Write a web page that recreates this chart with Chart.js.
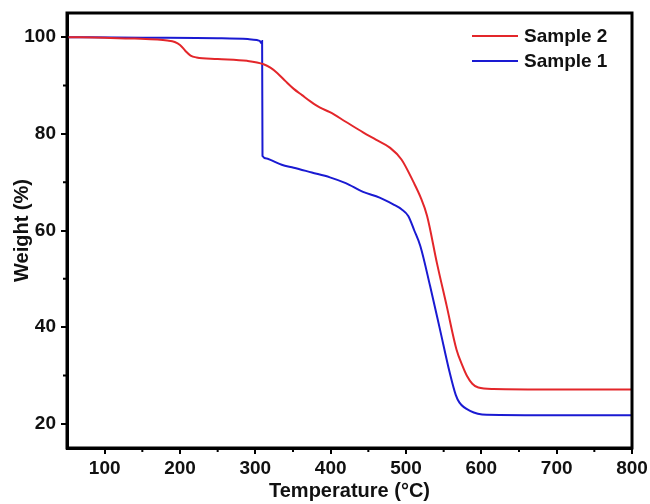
<!DOCTYPE html>
<html>
<head>
<meta charset="utf-8">
<script src="https://cdn.jsdelivr.net/npm/chart.js@4/dist/chart.umd.min.js"></script>
<style>
  html,body{margin:0;padding:0;background:#fff;}
  #wrap{width:650px;height:504px;}
</style>
</head>
<body>
<div id="wrap"><canvas id="c" width="650" height="504"></canvas></div>
<script>
// ---- data ----
const sample2Temp = [50, 100, 140, 170, 183, 193, 200, 207, 214, 222, 250, 289, 311, 320, 329, 340, 351, 362, 374, 386, 399, 420, 443, 460, 479, 494, 510, 519, 528, 541, 554, 567, 575, 581, 588, 596, 616, 700, 800];
const sample2Weight = [100, 99.9, 99.7, 99.5, 99.3, 99.0, 98.4, 97.2, 96.2, 95.8, 95.5, 95.1, 94.4, 93.7, 92.6, 90.9, 89.3, 88.0, 86.6, 85.4, 84.5, 82.5, 80.3, 78.8, 77.1, 74.7, 70.0, 67.0, 63.0, 53.3, 44.4, 35.4, 32.0, 29.9, 28.3, 27.5, 27.2, 27.1, 27.1];
const sample1Temp = [50, 150, 250, 290, 302, 306, 308, 309, 309.5, 315, 320, 335, 351, 375, 399, 420, 443, 465, 483, 494, 503, 511, 519, 532, 545, 558, 566, 571, 585, 607, 700, 800];
const sample1Weight = [100, 99.9, 99.8, 99.6, 99.4, 99.2, 98.8, 99.2, 75.4, 74.9, 74.6, 73.6, 73.0, 72.0, 71.0, 69.8, 68.0, 66.8, 65.4, 64.4, 63.0, 60.0, 56.8, 48.5, 39.6, 30.6, 26.0, 24.4, 22.7, 21.9, 21.8, 21.8];
const xTickValues = [100, 200, 300, 400, 500, 600, 700, 800];
const xMinorTicks = [150, 250, 350, 450, 550, 650, 750];
const yTickValues = [20, 40, 60, 80, 100];
const yMinorTicks = [30, 50, 70, 90];
const seriesLabels = ['Sample 2', 'Sample 1'];

const RED = '#e3262a';
const BLUE = '#1a1ad2';
const FONT = 'Liberation Sans, Arial, Helvetica, sans-serif';

function toPoints(xs, ys){ return xs.map((x,i)=>({x:x, y:ys[i]})); }

const framePlugin = {
  id: 'frame',
  afterDraw(chart){
    const {ctx, chartArea:a, scales} = chart;
    ctx.save();
    ctx.strokeStyle = '#000';
    ctx.lineWidth = 2;
    ctx.beginPath();
    xMinorTicks.forEach(v=>{
      const px = scales.x.getPixelForValue(v);
      ctx.moveTo(px, a.bottom); ctx.lineTo(px, a.bottom + 4);
    });
    yMinorTicks.forEach(v=>{
      const py = scales.y.getPixelForValue(v);
      ctx.moveTo(a.left, py); ctx.lineTo(a.left - 4, py);
    });
    ctx.stroke();
    ctx.lineWidth = 3;
    ctx.strokeRect(a.left, a.top, a.right - a.left, a.bottom - a.top);
    const ds = chart.data.datasets;
    const rows = [36, 61];
    ctx.font = 'bold 19px ' + FONT;
    ctx.textBaseline = 'middle';
    ctx.textAlign = 'left';
    ds.forEach((d,i)=>{
      ctx.strokeStyle = d.borderColor;
      ctx.lineWidth = 2;
      ctx.beginPath();
      ctx.moveTo(472, rows[i]); ctx.lineTo(518, rows[i]);
      ctx.stroke();
      ctx.fillStyle = '#111';
      ctx.fillText(d.label, 524, rows[i] + 1);
    });
    ctx.restore();
  }
};

new Chart(document.getElementById('c'), {
  type: 'line',
  data: {
    datasets: [
      {label: seriesLabels[0], data: toPoints(sample2Temp, sample2Weight), borderColor: RED, backgroundColor: RED, borderWidth: 2, pointRadius: 0, cubicInterpolationMode: 'monotone', fill: false},
      {label: seriesLabels[1], data: toPoints(sample1Temp, sample1Weight), borderColor: BLUE, backgroundColor: BLUE, borderWidth: 2, pointRadius: 0, cubicInterpolationMode: 'monotone', fill: false}
    ]
  },
  options: {
    responsive: false,
    animation: false,
    devicePixelRatio: 1,
    layout: {padding: {top: 13, right: 18, left: 0, bottom: 0}},
    plugins: {legend: {display: false}, tooltip: {enabled: false}},
    scales: {
      x: {
        type: 'linear', min: 50, max: 800,
        afterBuildTicks: s => { s.ticks = xTickValues.map(v=>({value:v})); },
        afterFit: s => { s.height = 56; s.paddingLeft = 0; s.paddingRight = 0; },
        grid: {display: true, drawOnChartArea: false, drawTicks: true, tickLength: 6, color: '#000', lineWidth: 2},
        border: {display: true, color: '#000', width: 3},
        ticks: {padding: 3, color: '#111', font: {family: FONT, size: 19, weight: 'bold'}, maxRotation: 0, autoSkip: false},
        title: {display: true, text: 'Temperature (°C)', color: '#111', font: {family: FONT, size: 20, weight: 'bold'}, padding: {top: 0, bottom: 1}}
      },
      y: {
        type: 'linear', min: 15, max: 105,
        afterBuildTicks: s => { s.ticks = yTickValues.map(v=>({value:v})); },
        afterFit: s => { s.width = 67; s.paddingTop = 0; s.paddingBottom = 0; },
        grid: {display: true, drawOnChartArea: false, drawTicks: true, tickLength: 6, color: '#000', lineWidth: 2},
        border: {display: true, color: '#000', width: 3},
        ticks: {padding: 5, color: '#111', font: {family: FONT, size: 19, weight: 'bold'}, autoSkip: false},
        title: {display: true, text: 'Weight (%)', color: '#111', font: {family: FONT, size: 20, weight: 'bold'}, padding: {top: 10, bottom: 0}}
      }
    }
  },
  plugins: [framePlugin]
});
</script>
</body>
</html>
